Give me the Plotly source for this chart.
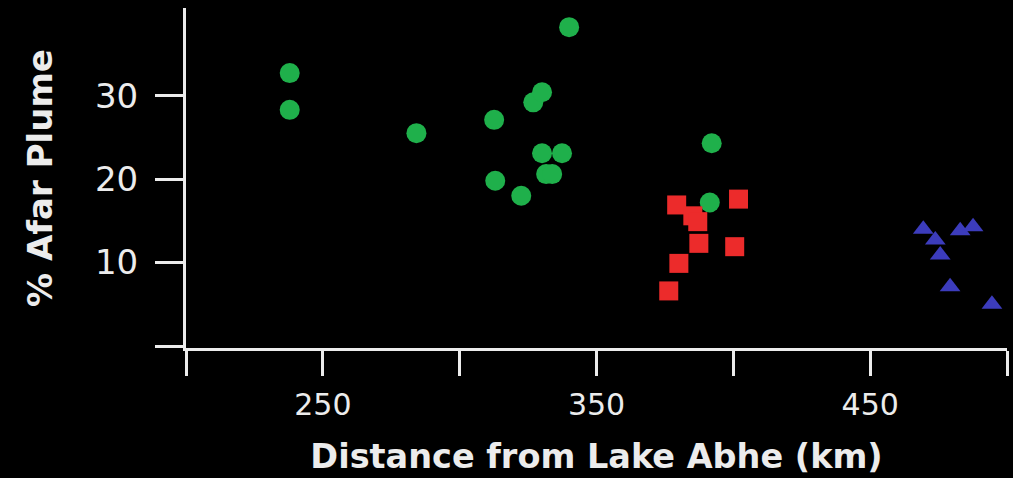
import plotly.graph_objects as go

# Green circles
green_x = [237.9, 237.9, 284.2, 340.0, 326.9, 330.1, 312.6, 330.1, 337.4, 331.6, 333.8, 313.0, 322.5, 392.1, 391.4]
green_y = [32.7, 28.3, 25.5, 38.2, 29.2, 30.4, 27.1, 23.1, 23.1, 20.6, 20.6, 19.8, 18.0, 24.3, 17.2]

# Red squares
red_x = [379.3, 401.9, 385.2, 387.0, 387.4, 400.5, 380.1, 376.4]
red_y = [16.9, 17.6, 15.6, 14.9, 12.3, 11.9, 9.9, 6.6]

# Blue triangles
blue_x = [469.4, 473.8, 475.6, 482.9, 487.6, 479.2, 494.5]
blue_y = [14.0, 12.7, 10.9, 13.8, 14.3, 7.1, 5.0]

x_tickvals = [200, 250, 300, 350, 400, 450, 500]
x_ticktext = ["", "250", "", "350", "", "450", ""]
y_tickvals = [0, 10, 20, 30]
y_ticktext = ["", "10", "20", "30"]

GREEN = "#1fb04b"
RED = "#ec2b2b"
BLUE = "#3c3cbc"
AXIS = "#ececec"

fig = go.Figure()
fig.add_trace(go.Scatter(x=green_x, y=green_y, mode="markers",
                         marker=dict(symbol="circle", size=20, color=GREEN), showlegend=False))
fig.add_trace(go.Scatter(x=red_x, y=red_y, mode="markers",
                         marker=dict(symbol="square", size=19, color=RED), showlegend=False))
fig.add_trace(go.Scatter(x=blue_x, y=blue_y, mode="markers",
                         marker=dict(symbol="triangle-up", size=18, color=BLUE), showlegend=False))

fig.update_layout(
    width=1013, height=478,
    margin=dict(l=186, r=6, t=8, b=130),
    paper_bgcolor="black", plot_bgcolor="black",
    font=dict(family="DejaVu Sans", color=AXIS),
    xaxis=dict(
        range=[200, 500], showgrid=False, zeroline=False, automargin=False,
        showline=True, linecolor=AXIS, linewidth=3,
        ticks="outside", ticklen=25, tickwidth=3, tickcolor=AXIS,
        tickvals=x_tickvals, ticktext=x_ticktext,
        tickfont=dict(family="DejaVu Sans", size=30, color=AXIS),
        ticklabelstandoff=3,
        title=dict(text="Distance from Lake Abhe (km)", standoff=24,
                   font=dict(family="DejaVu Sans", size=33.5, color=AXIS, weight="bold")),
    ),
    yaxis=dict(
        range=[-0.24, 40.5], showgrid=False, zeroline=False, automargin=False,
        showline=True, linecolor=AXIS, linewidth=3,
        ticks="outside", ticklen=28, tickwidth=3, tickcolor=AXIS,
        tickvals=y_tickvals, ticktext=y_ticktext,
        tickfont=dict(family="DejaVu Sans", size=34, color=AXIS),
        ticklabelstandoff=10,
        title=dict(text="% Afar Plume", standoff=33,
                   font=dict(family="DejaVu Sans", size=34, color=AXIS, weight="bold")),
    ),
)

fig.write_html(
    "out.html",
    config={"displayModeBar": False},
    post_script="document.body.style.margin='0';document.body.style.background='black';",
)
